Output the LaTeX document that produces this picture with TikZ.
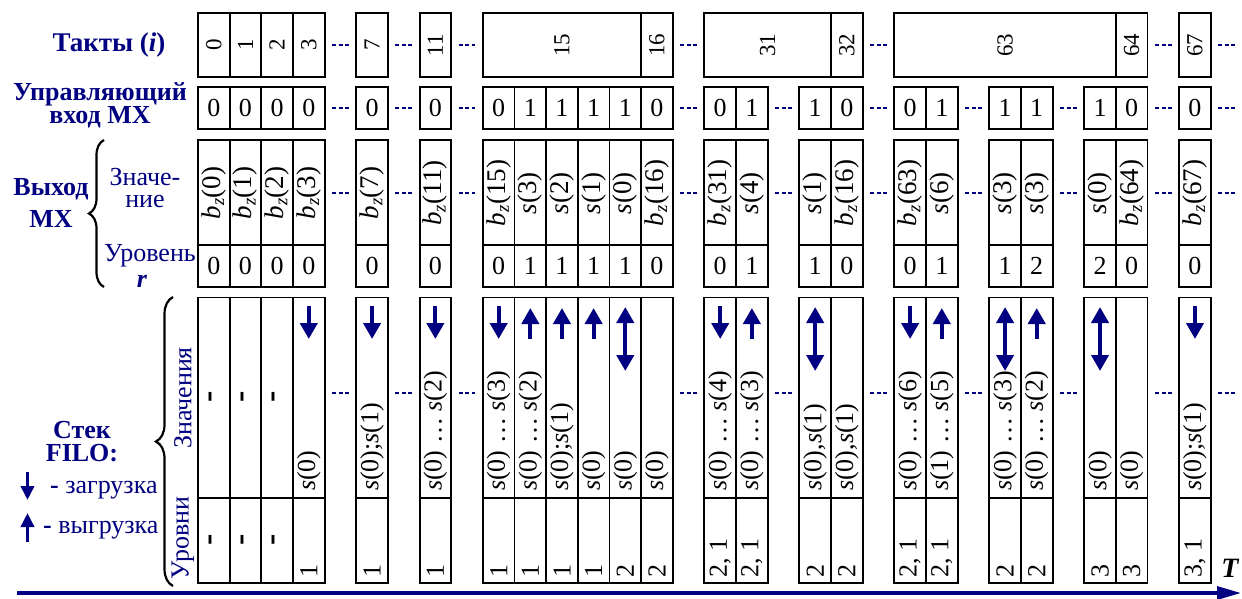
\documentclass[tikz,border=0pt]{standalone}
\usepackage{fontspec}
\setmainfont{Liberation Serif}
\usetikzlibrary{arrows.meta,decorations.pathreplacing}
\definecolor{navy}{RGB}{0,0,128}
\newcommand{\bz}[1]{\textit{b}\textsubscript{\textit{z}}(#1)}
\newcommand{\sv}[1]{\textit{s}(#1)}
\newcommand{\fs}[2]{\fontsize{#1}{#2}\selectfont}
\begin{document}
\begin{tikzpicture}[x=1pt,y=-1pt,
  bx/.style={line width=1.9pt},
  rt/.style={rotate=90,inner sep=0pt},
  up/.style={inner sep=0pt},
  navyarr/.style={draw=navy,line width=4pt,-{Triangle[length=16pt,width=17pt]}},
  legarr/.style={draw=navy,line width=3.5pt,-{Triangle[length=14pt,width=13pt]}},
  dblarr/.style={draw=navy,line width=4pt,{Triangle[length=16pt,width=17pt]}-{Triangle[length=16pt,width=17pt]}},
  dsh/.style={draw=navy,line width=2pt,dash pattern=on 4pt off 2.5pt},
  lbl/.style={text=navy,inner sep=0pt,align=center}]
\fill[white] (0,0) rectangle (1242,598);
\useasboundingbox (0,0) rectangle (1242,598);

% ---- top row boxes
\foreach \a/\b in {0/4,5/6,7/8,9/15,16/21,22/30,31/32}
  \draw[bx] ({198+31.65*\a},13.3) rectangle ({198+31.65*\b},76.7);
\foreach \k in {1,2,3,14,20,29}
  \draw[bx] ({198+31.65*\k},13.3) -- ({198+31.65*\k},76.7);

% ---- other rows
\foreach \a/\b in {0/4,5/6,7/8,9/15,16/18,19/21,22/24,25/27,28/30,31/32} {
  \draw[bx] ({198+31.65*\a},87) rectangle ({198+31.65*\b},129);
  \draw[bx] ({198+31.65*\a},140) rectangle ({198+31.65*\b},287);
  \draw[bx] ({198+31.65*\a},245) -- ({198+31.65*\b},245);
  \draw[bx] ({198+31.65*\a},297.5) rectangle ({198+31.65*\b},583);
  \draw[bx] ({198+31.65*\a},498) -- ({198+31.65*\b},498);
  \foreach \k in {\a,...,\b} {
    \draw[bx] ({198+31.65*\k},87) -- ({198+31.65*\k},129);
    \draw[bx] ({198+31.65*\k},140) -- ({198+31.65*\k},287);
    \draw[bx] ({198+31.65*\k},297.5) -- ({198+31.65*\k},583);
  }
}

% ---- top row text
\foreach \i/\t in {0/0,1/1,2/2,3/3,5/7,7/11,14/16,20/32,29/64,31/67}
  \node[rt,font=\fs{23}{23}] (t\i) at ({198+31.65*(\i+0.5)},45) {\t};
\node[rt,font=\fs{23}{23}] (t9) at ({198+31.65*11.5},45) {15};
\node[rt,font=\fs{23}{23}] (t16) at ({198+31.65*18},45) {31};
\node[rt,font=\fs{23}{23}] (t22) at ({198+31.65*25.5},45) {63};

% ---- control input
\foreach \i/\t in {0/0,1/0,2/0,3/0,5/0,7/0,9/0,10/1,11/1,12/1,13/1,14/0,16/0,17/1,19/1,20/0,22/0,23/1,25/1,26/1,28/1,29/0,31/0}
  \node[up,font=\fs{26}{26}] (c\i) at ({198+31.65*(\i+0.5)},108) {\t};

% ---- MX output values
\foreach \i/\t in {0/{\bz{0}},1/{\bz{1}},2/{\bz{2}},3/{\bz{3}},5/{\bz{7}},7/{\bz{11}},9/{\bz{15}},10/{\sv{3}},11/{\sv{2}},12/{\sv{1}},13/{\sv{0}},14/{\bz{16}},16/{\bz{31}},17/{\sv{4}},19/{\sv{1}},20/{\bz{16}},22/{\bz{63}},23/{\sv{6}},25/{\sv{3}},26/{\sv{3}},28/{\sv{0}},29/{\bz{64}},31/{\bz{67}}}
  \node[rt,font=\fs{27}{27}] (o\i) at ({198+31.65*(\i+0.5)},193) {\t};

% ---- MX output levels
\foreach \i/\t in {0/0,1/0,2/0,3/0,5/0,7/0,9/0,10/1,11/1,12/1,13/1,14/0,16/0,17/1,19/1,20/0,22/0,23/1,25/1,26/2,28/2,29/0,31/0}
  \node[up,font=\fs{26}{26}] (l\i) at ({198+31.65*(\i+0.5)},266) {\t};

% ---- stack values
\foreach \i/\t in {3/{\sv{0}},5/{\sv{0};\sv{1}},7/{\sv{0} \dots{} \sv{2}},9/{\sv{0} \dots{} \sv{3}},10/{\sv{0} \dots{} \sv{2}},11/{\sv{0};\sv{1}},12/{\sv{0}},13/{\sv{0}},14/{\sv{0}},16/{\sv{0} \dots{} \sv{4}},17/{\sv{0} \dots{} \sv{3}},19/{\sv{0},\sv{1}},20/{\sv{0},\sv{1}},22/{\sv{0} \dots{} \sv{6}},23/{\sv{1} \dots{} \sv{5}},25/{\sv{0} \dots{} \sv{3}},26/{\sv{0} \dots{} \sv{2}},28/{\sv{0}},29/{\sv{0}},31/{\sv{0};\sv{1}}}
  \node[rt,anchor=west,font=\fs{26}{26}] (s\i) at ({198+31.65*(\i+0.5)},491) {\t};
\foreach \i in {0,1,2} {
  \node[rt,font=\bfseries\fs{34}{34}] (sd\i) at ({198+31.65*(\i+0.5)},397) {-};
  \node[rt,font=\bfseries\fs{34}{34}] (ld\i) at ({198+31.65*(\i+0.5)},540) {-};
}

% ---- stack levels
\foreach \i/\t in {3/1,5/1,7/1,9/1,10/1,11/1,12/1,13/2,14/2,16/{2, 1},17/{2, 1},19/2,20/2,22/{2, 1},23/{2, 1},25/2,26/2,28/3,29/3,31/{3, 1}}
  \node[rt,anchor=west,font=\fs{26}{26}] (sl\i) at ({198+31.65*(\i+0.5)},578) {\t};

% ---- stack arrows
\foreach \i in {3,5,7,9,16,22,31}
  \draw[navyarr] ({198+31.65*(\i+0.5)},306) -- ({198+31.65*(\i+0.5)},339);
\foreach \i in {10,11,12,17,23,26}
  \draw[navyarr] ({198+31.65*(\i+0.5)},339) -- ({198+31.65*(\i+0.5)},308);
\foreach \i in {13,19,25,28}
  \draw[dblarr] ({198+31.65*(\i+0.5)},307) -- ({198+31.65*(\i+0.5)},371);

% ---- dots in gaps
\foreach \g in {4,6,8,15,21,30,32}
  \draw[dsh] ({198+31.65*(\g+0.5)-8.25},45) -- ++(16.5,0);
\foreach \g in {4,6,8,15,18,21,24,27,30,32} {
  \draw[dsh] ({198+31.65*(\g+0.5)-8.25},108) -- ++(16.5,0);
  \draw[dsh] ({198+31.65*(\g+0.5)-8.25},193) -- ++(16.5,0);
  \draw[dsh] ({198+31.65*(\g+0.5)-8.25},393) -- ++(16.5,0);
}

% ---- left labels
\node[lbl,font=\bfseries\fs{27}{27}] (takty) at (109,45) {Такты (\textit{i})};
\node[lbl,font=\bfseries\fs{26}{23}] (upr) at (100,105) {Управляющий\\вход МХ};
\node[lbl,font=\bfseries\fs{26}{32}] (vyhod) at (51,203) {Выход\\МХ};
\node[lbl,font=\fs{26}{22}] (znach) at (145,188) {Значе-\\ние};
\node[lbl,font=\fs{26}{26}] (urov) at (150,256) {Уровень};
\node[lbl,font=\bfseries\itshape\fs{26}{26}] (rr) at (142,281) {r};
\node[lbl,font=\bfseries\fs{26}{23}] (stek) at (82,442) {Стек\\FILO:};
\draw[legarr] (27.5,472) -- (27.5,500);
\node[lbl,anchor=base west,font=\fs{26}{26}] (zagr) at (50,493) {\textbf{-} загрузка};
\draw[legarr] (27.5,542) -- (27.5,513);
\node[lbl,anchor=base west,font=\fs{26}{26}] (vygr) at (43,533) {\textbf{-} выгрузка};
\node[lbl,rt,font=\fs{26}{26}] (znachs) at (183,398) {Значения};
\node[lbl,rt,font=\fs{26}{26}] (urovni) at (183,538) {Уровни};

% ---- braces
\draw[line width=2.2pt,decorate,decoration={brace,amplitude=15pt}] (104,287) -- (104,140);
\draw[line width=2.2pt,decorate,decoration={brace,amplitude=17pt}] (173,586) -- (173,297);

% ---- time axis
\coordinate (ta) at (17,593);
\coordinate (tb) at (1241,593);
\draw[draw=navy,line width=3.3pt,-{Triangle[length=24pt,width=13pt]}] (ta) -- (tb);
\node[font=\bfseries\itshape\fs{28}{28},inner sep=0pt] (T) at (1230,568) {T};
\end{tikzpicture}
\end{document}
